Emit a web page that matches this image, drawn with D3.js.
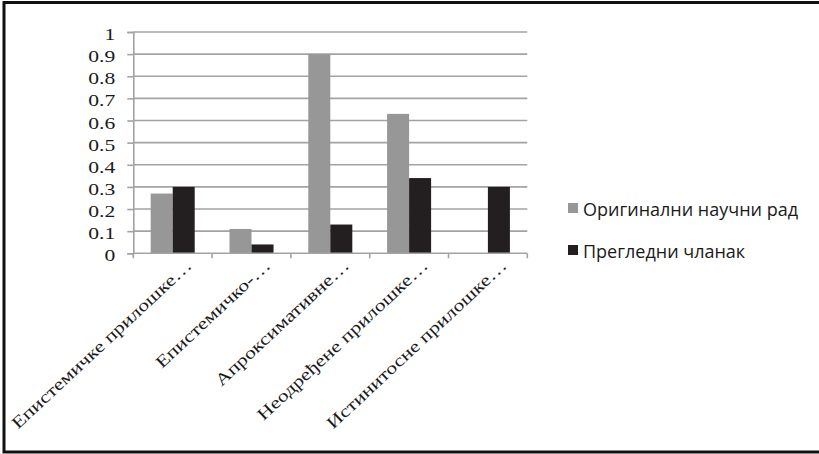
<!DOCTYPE html>
<html>
<head>
<meta charset="utf-8">
<script src="https://cdn.jsdelivr.net/npm/d3@7"></script>
<style>
  html, body { margin: 0; padding: 0; background: #ffffff; }
  svg { display: block; }
</style>
</head>
<body>
<svg id="chart" width="819" height="454"></svg>
<script>
// ---- data ----
const categories = [
  "Епистемичке прилошке…",
  "Епистемичко-…",
  "Апроксимативне…",
  "Неодређене прилошке…",
  "Истинитосне прилошке…"
];
const seriesNames = ["Оригинални научни рад", "Прегледни чланак"];
const originalValues = [0.27, 0.11, 0.90, 0.63, 0];
const reviewValues = [0.30, 0.04, 0.13, 0.34, 0.30];
const yTickValues = [0, 0.1, 0.2, 0.3, 0.4, 0.5, 0.6, 0.7, 0.8, 0.9, 1];
const yTickLabels = ["0", "0.1", "0.2", "0.3", "0.4", "0.5", "0.6", "0.7", "0.8", "0.9", "1"];

// ---- layout / style ----
const W = 819, H = 454;
const plot = { left: 133.3, right: 527.3, top: 32, bottom: 253.3 };
const colors = ["#979797", "#231f20"];
const gridColor = "#a3a3a3";
const serifFont = "'Liberation Serif', 'Times New Roman', serif";
const sansFont = "'Open Sans', 'Noto Sans', sans-serif";
const stretch = 1.27;

const svg = d3.select("#chart");
svg.append("rect").attr("x", 0).attr("y", 0).attr("width", W).attr("height", H).attr("fill", "#fff");

const x0 = d3.scaleBand().domain(categories).range([plot.left, plot.right]).paddingInner(0).paddingOuter(0);
const x1 = d3.scaleBand().domain(seriesNames).range([0, x0.bandwidth()]).paddingInner(0).paddingOuter(0.79);
const y = d3.scaleLinear().domain([0, 1]).range([plot.bottom, plot.top]);

// gridlines
svg.append("g").selectAll("line").data(yTickValues.filter(d => d > 0)).join("line")
  .attr("x1", plot.left).attr("x2", plot.right)
  .attr("y1", d => y(d)).attr("y2", d => y(d))
  .attr("stroke", gridColor).attr("stroke-width", 1.6);

// y axis
const yAxis = d3.axisLeft(y).tickValues(yTickValues)
  .tickFormat((d, i) => yTickLabels[i]).tickSizeOuter(0).tickSize(6);
const gy = svg.append("g").attr("transform", `translate(${plot.left},0)`).call(yAxis);
gy.select(".domain").attr("stroke", gridColor).attr("stroke-width", 1.6);
gy.selectAll(".tick line").attr("stroke", gridColor).attr("stroke-width", 1.6);
gy.selectAll(".tick text")
  .attr("x", null).attr("dy", null)
  .attr("transform", `translate(-18,7.5) scale(${stretch},1)`)
  .attr("text-anchor", "end")
  .attr("fill", "#1a1a1a")
  .style("font-family", serifFont).style("font-size", "17px");

// bars
const data = categories.map((c, i) => ({ cat: c, vals: [originalValues[i], reviewValues[i]] }));
const groups = svg.append("g").selectAll("g").data(data).join("g")
  .attr("transform", d => `translate(${x0(d.cat)},0)`);
groups.selectAll("rect").data(d => d.vals.map((v, j) => ({ s: seriesNames[j], v, j })))
  .join("rect")
  .attr("x", d => x1(d.s)).attr("width", x1.bandwidth())
  .attr("y", d => y(d.v)).attr("height", d => y(0) - y(d.v))
  .attr("fill", d => colors[d.j]);

// x axis
const xAxisG = svg.append("g");
xAxisG.append("line").attr("x1", plot.left).attr("x2", plot.right)
  .attr("y1", y(0)).attr("y2", y(0)).attr("stroke", gridColor).attr("stroke-width", 1.6);
const bounds = categories.map(c => x0(c)).concat([plot.right]);
xAxisG.selectAll("line.tk").data(bounds).join("line").attr("class", "tk")
  .attr("x1", d => d).attr("x2", d => d)
  .attr("y1", y(0)).attr("y2", y(0) + 5)
  .attr("stroke", gridColor).attr("stroke-width", 1.6);
xAxisG.selectAll("text").data(categories).join("text")
  .attr("transform", d => `translate(${x0(d) + x0.bandwidth() / 2 + 20},${y(0) + 13.5}) rotate(-43) scale(${stretch},1)`)
  .attr("text-anchor", "end")
  .attr("fill", "#1a1a1a")
  .style("font-family", serifFont).style("font-size", "17px")
  .text(d => d);

// legend
const legend = svg.append("g").attr("transform", "translate(568,203)");
const li = legend.selectAll("g").data(seriesNames).join("g")
  .attr("transform", (d, i) => `translate(0,${i * 42})`);
li.append("rect").attr("x", 0).attr("y", 0).attr("width", 10).attr("height", 10)
  .attr("fill", (d, i) => colors[i]);
li.append("text")
  .attr("x", 15).attr("y", 12.5)
  .attr("fill", "#1a1a1a")
  .style("font-family", sansFont).style("font-size", "18px")
  .text(d => d);

// outer frame
svg.append("rect").attr("x", 4).attr("y", 2.5).attr("width", W + 10).attr("height", H - 4.5)
  .attr("fill", "none").attr("stroke", "#111").attr("stroke-width", 3);
</script>
</body>
</html>
